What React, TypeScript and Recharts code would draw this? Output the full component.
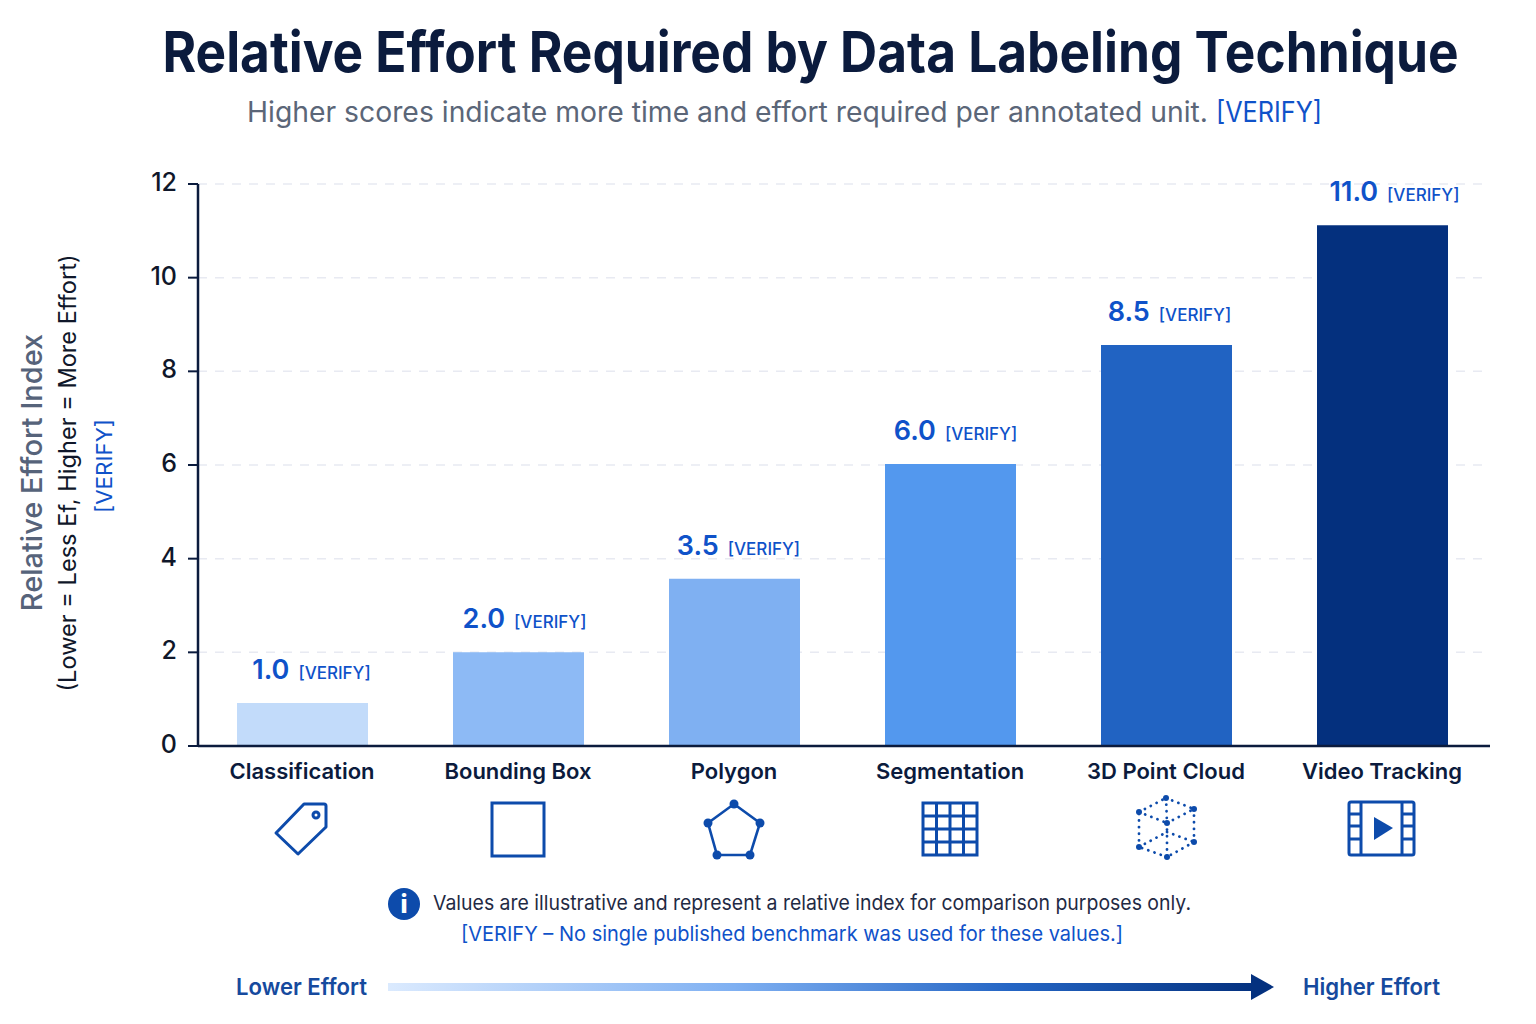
import React from 'react';
import { BarChart, Bar, Cell, XAxis, YAxis, CartesianGrid, LabelList } from 'recharts';

const categories = ['Classification', 'Bounding Box', 'Polygon', 'Segmentation', '3D Point Cloud', 'Video Tracking'];
// heights as drawn in the picture, the printed labels are rounder
const barHeights = [0.92, 2.0, 3.57, 6.02, 8.56, 11.12];
const barLabels = ['1.0', '2.0', '3.5', '6.0', '8.5', '11.0'];
const barColors = ['#c2dbfa', '#8dbaf5', '#7fb0f2', '#5398ee', '#2163c2', '#04307e'];
const yTicks = [0, 2, 4, 6, 8, 10, 12];

const data = categories.map((name, i) => ({ name, height: barHeights[i] }));

const NAVY = '#0b1b3d';
const BLUE = '#0f52c9';
const ICON = '#0d4bab';

// labels sit a little unevenly above the bars in the original
const labelNudge = [9, 6, 4, 5, 3, 12];

const TagIcon = () => (
  <g fill="none" stroke={ICON} strokeWidth={3} strokeLinejoin="round">
    <path d="M-26 5 L2 -24 L22 -24 Q24 -24 24 -22 L24 -1 L-4 26 Z" />
    <circle cx={14} cy={-13} r={3} />
  </g>
);

const BoxIcon = () => <rect x={-26} y={-25} width={52} height={53} fill="none" stroke={ICON} strokeWidth={3} />;

const PolygonIcon = () => {
  const pts = [[0, -24], [26, -5], [16, 27], [-17, 27], [-26, -5]];
  return (
    <g>
      <polygon points={pts.map(p => p.join(',')).join(' ')} fill="none" stroke={ICON} strokeWidth={2.6} />
      {pts.map((p, i) => <circle key={i} cx={p[0]} cy={p[1]} r={4.5} fill={ICON} />)}
    </g>
  );
};

const GridIcon = () => (
  <g fill="none" stroke={ICON} strokeWidth={3}>
    <rect x={-27} y={-25} width={54} height={52} />
    {[-13.5, 0, 13.5].map(v => <line key={'v' + v} x1={v} x2={v} y1={-25} y2={27} />)}
    {[-12, 1, 14].map(v => <line key={'h' + v} x1={-27} x2={27} y1={v} y2={v} />)}
  </g>
);

const CloudIcon = () => {
  const T = [0, -30], TR = [28, -19], BR = [28, 14], B = [1, 29], BL = [-27, 19], TL = [-27, -16], C = [1, -5], M = [1, 4];
  const edges = [[T, TR], [TR, BR], [BR, B], [B, BL], [BL, TL], [TL, T], [TL, C], [C, TR], [C, B], [T, C], [BL, M], [M, BR]];
  return (
    <g>
      {edges.map((e, i) => (
        <line key={i} x1={e[0][0]} y1={e[0][1]} x2={e[1][0]} y2={e[1][1]} stroke={ICON} strokeWidth={2.8} strokeLinecap="round" strokeDasharray="0.1 6.5" />
      ))}
      {[T, TR, BR, B, BL, TL, C].map((p, i) => <circle key={i} cx={p[0]} cy={p[1]} r={3} fill={ICON} />)}
    </g>
  );
};

const FilmIcon = () => (
  <g fill="none" stroke={ICON} strokeWidth={3}>
    <rect x={-33} y={-26} width={65} height={53} rx={2} />
    <line x1={-21} x2={-21} y1={-26} y2={27} />
    <line x1={20} x2={20} y1={-26} y2={27} />
    {[-14, -2, 11].map(v => (
      <g key={v}>
        <line x1={-33} x2={-21} y1={v} y2={v} />
        <line x1={20} x2={32} y1={v} y2={v} />
      </g>
    ))}
    <polygon points="-8,-11 11,0 -8,12" fill={ICON} stroke="none" />
  </g>
);

const icons = [TagIcon, BoxIcon, PolygonIcon, GridIcon, CloudIcon, FilmIcon];

const CategoryTick = ({ x, y, payload, index }: any) => {
  const Icon = icons[index];
  return (
    <g>
      <text x={x} y={y + 25} textAnchor="middle" fontSize={22} fontWeight={600} fill={NAVY}>{payload.value}</text>
      <g transform={`translate(${x},${y + 74})`}><Icon /></g>
    </g>
  );
};

const ValueLabel = ({ x, y, width, index }: any) => (
  <text x={x + width / 2 + labelNudge[index]} y={y - 24} textAnchor="middle" fill={BLUE}>
    <tspan fontSize={27} fontWeight={600}>{barLabels[index]}</tspan>
    <tspan dx={9} fontSize={17} fontWeight={500}>[VERIFY]</tspan>
  </text>
);

export default function App() {
  return (
    <div style={{ position: 'absolute', left: 0, top: 0, width: 1536, height: 1024, background: '#fff', fontFamily: 'Inter, sans-serif' }}>
      <BarChart
        width={1536}
        height={1024}
        data={data}
        margin={{ top: 184, right: 46, bottom: 0, left: 0 }}
        barSize={131}
        style={{ fontFamily: 'Inter, sans-serif' }}
      >
        <CartesianGrid vertical={false} stroke="#e8eaf2" strokeDasharray="9 8" strokeWidth={1.5} />
        <XAxis
          dataKey="name"
          height={278}
          interval={0}
          padding={{ left: -4, right: 0 }}
          tickLine={false}
          axisLine={{ stroke: NAVY, strokeWidth: 2.5 }}
          tick={<CategoryTick />}
        />
        <YAxis
          width={198}
          domain={[0, 12]}
          ticks={yTicks}
          interval={0}
          tickSize={10}
          tickMargin={11}
          axisLine={{ stroke: NAVY, strokeWidth: 2.5 }}
          tickLine={{ stroke: NAVY, strokeWidth: 2 }}
          tick={{ fontSize: 25, fontWeight: 500, fill: '#0f172a', dy: -2 }}
        />
        <Bar dataKey="height" isAnimationActive={false}>
          {data.map((d, i) => <Cell key={d.name} fill={barColors[i]} />)}
          <LabelList dataKey="height" content={<ValueLabel />} />
        </Bar>
      </BarChart>

      <svg width={1536} height={1024} style={{ position: 'absolute', left: 0, top: 0, pointerEvents: 'none' }}>
        <defs>
          <linearGradient id="effortArrow" x1="0" x2="1" y1="0" y2="0">
            <stop offset="0" stopColor="#dbeafe" />
            <stop offset="0.4" stopColor="#7fb0f2" />
            <stop offset="0.72" stopColor="#2465c4" />
            <stop offset="1" stopColor="#04317f" />
          </linearGradient>
        </defs>
        <text transform="translate(810.5,72) scale(1,1.09)" textAnchor="middle" fontSize={51.4} fontWeight={700} fill={NAVY}>Relative Effort Required by Data Labeling Technique</text>
        <text x={247} y={122} textLength={961} lengthAdjust="spacingAndGlyphs" fontSize={28} fill="#5b6678">Higher scores indicate more time and effort required per annotated unit.</text>
        <text x={1216} y={122} textLength={106} lengthAdjust="spacingAndGlyphs" fontSize={28} fill={BLUE}>[VERIFY]</text>

        <text transform="translate(42,472.5) rotate(-90)" textAnchor="middle" fontSize={29} fontWeight={500} fill="#56637a">Relative Effort Index</text>
        <text transform="translate(76,473) rotate(-90)" textAnchor="middle" fontSize={23.6} fill="#0f172a">(Lower = Less Ef, Higher = More Effort)</text>
        <text transform="translate(112,466) rotate(-90)" textAnchor="middle" fontSize={22} textLength={94} lengthAdjust="spacingAndGlyphs" fill={BLUE}>[VERIFY]</text>

        <circle cx={404} cy={904} r={16} fill={ICON} />
        <text x={404} y={913} textAnchor="middle" fontSize={25} fontWeight={800} fill="#fff">i</text>
        <text x={433} y={910} textLength={758} lengthAdjust="spacingAndGlyphs" fontSize={20.5} fill="#1f2a44">Values are illustrative and represent a relative index for comparison purposes only.</text>
        <text x={461} y={941} textLength={662} lengthAdjust="spacingAndGlyphs" fontSize={20.5} fill={BLUE}>[VERIFY – No single published benchmark was used for these values.]</text>

        <text x={236} y={995} textLength={131} lengthAdjust="spacingAndGlyphs" fontSize={23} fontWeight={600} fill="#164a9e">Lower Effort</text>
        <rect x={388} y={983} width={866} height={8} fill="url(#effortArrow)" />
        <polygon points="1251,974 1274,987 1251,1000" fill="#04317f" />
        <text x={1303} y={995} textLength={137} lengthAdjust="spacingAndGlyphs" fontSize={23} fontWeight={600} fill="#164a9e">Higher Effort</text>
      </svg>
    </div>
  );
}
